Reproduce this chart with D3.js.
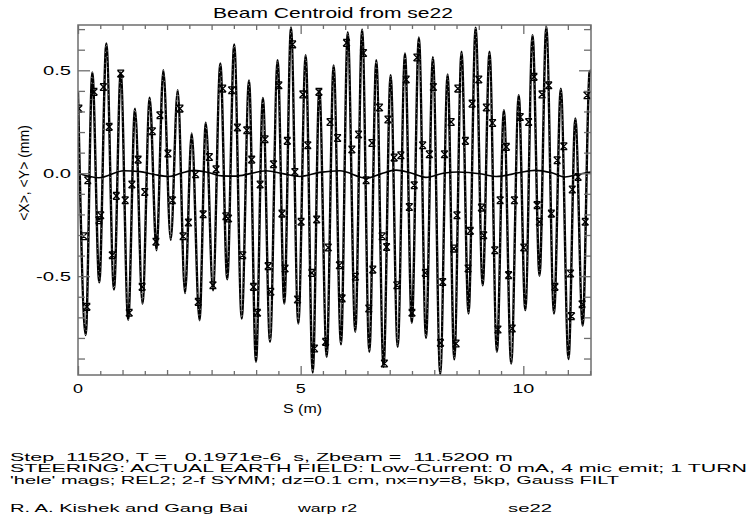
<!DOCTYPE html>
<html>
<head>
<meta charset="utf-8">
<script src="https://cdn.jsdelivr.net/npm/d3@7"></script>
<style>
  html, body { margin: 0; padding: 0; background: #fff; }
  svg { display: block; }
  text { font-family: "Liberation Sans", Arial, Helvetica, sans-serif; fill: #000; white-space: pre; }
</style>
</head>
<body>
<svg id="chart" width="747" height="529"></svg>
<script>
// Oscillating centroid: successive extrema (S in m, centroid in mm)
const waveS = [0.000, 0.173, 0.321, 0.478, 0.636, 0.808, 0.959, 1.127, 1.280, 1.448,
  1.610, 1.763, 1.916, 2.082, 2.239, 2.403, 2.553, 2.728, 2.870, 3.032,
  3.196, 3.351, 3.508, 3.676, 3.840, 3.997, 4.152, 4.312, 4.482, 4.633,
  4.783, 4.947, 5.113, 5.271, 5.419, 5.585, 5.740, 5.906, 6.057, 6.227,
  6.380, 6.542, 6.699, 6.861, 7.020, 7.179, 7.343, 7.496, 7.655, 7.815,
  7.970, 8.134, 8.300, 8.450, 8.612, 8.770, 8.929, 9.088, 9.241, 9.407,
  9.564, 9.728, 9.897, 10.045, 10.207, 10.364, 10.516, 10.689, 10.842, 11.015,
  11.168, 11.334, 11.487, 11.520];
const waveV = [0.395, -0.786, 0.490, -0.530, 0.630, -0.565, 0.490, -0.712, 0.314, -0.633,
  0.367, -0.374, 0.500, -0.323, 0.403, -0.582, 0.193, -0.714, 0.245, -0.568,
  0.533, -0.515, 0.625, -0.706, 0.451, -0.916, 0.366, -0.819, 0.549, -0.633,
  0.708, -0.730, 0.573, -0.968, 0.408, -0.892, 0.524, -0.831, 0.685, -0.770,
  0.698, -0.867, 0.549, -0.940, 0.476, -0.843, 0.582, -0.726, 0.660, -0.800,
  0.564, -0.975, 0.480, -0.904, 0.590, -0.681, 0.707, -0.544, 0.590, -0.867,
  0.306, -0.924, 0.379, -0.665, 0.670, -0.498, 0.712, -0.681, 0.411, -0.902,
  0.266, -0.740, 0.490, 0.500];

// Slowly wandering centroid near the axis
const flatS = [0.00, 0.47, 1.03, 1.39, 1.71, 2.04, 2.31, 2.61, 2.92, 3.23, 3.55, 3.86,
  4.22, 4.60, 4.98, 5.43, 5.88, 6.47, 6.80, 7.14, 7.46, 7.81, 8.20, 8.53,
  9.07, 9.39, 9.90, 10.26, 10.64, 10.94, 11.25, 11.52];
const flatV = [0.000, -0.022, 0.012, 0.008, -0.006, -0.016, 0.000, 0.014, 0.004, -0.013, -0.014, -0.002,
  0.012, -0.002, -0.016, 0.004, 0.012, -0.024, -0.003, 0.015, 0.002, -0.020, 0.000, 0.006,
  -0.004, -0.016, 0.002, 0.014, 0.002, -0.018, -0.004, 0.006];

// Sampled points marked with asterisks
const markS = [0.02, 0.13, 0.20, 0.22, 0.36, 0.47, 0.51, 0.57, 0.70, 0.77, 0.86, 0.96, 1.06, 1.15, 1.21,
  1.35, 1.44, 1.50, 1.67, 1.75, 1.84, 2.02, 2.12, 2.29, 2.36, 2.48, 2.64, 2.70, 2.81,
  2.95, 3.03, 3.10, 3.25, 3.32, 3.38, 3.45, 3.58, 3.70, 3.79, 3.90, 3.94, 4.03, 4.09,
  4.20, 4.27, 4.33, 4.39, 4.51, 4.58, 4.65, 4.70, 4.82, 4.87, 4.93, 5.01, 5.05, 5.16,
  5.25, 5.31, 5.36, 5.41, 5.56, 5.62, 5.66, 5.83, 5.87, 5.93, 6.03, 6.15, 6.23, 6.30,
  6.41, 6.47, 6.53, 6.60, 6.62, 6.77, 6.83, 6.88, 6.93, 6.96, 7.10, 7.16, 7.25, 7.37,
  7.44, 7.50, 7.55, 7.61, 7.74, 7.80, 7.89, 7.98, 8.14, 8.19, 8.23, 8.38, 8.44, 8.49,
  8.51, 8.53, 8.70, 8.76, 8.81, 8.85, 9.00, 9.06, 9.11, 9.17, 9.31, 9.36, 9.43, 9.48,
  9.62, 9.67, 9.75, 9.80, 9.93, 10.01, 10.12, 10.24, 10.31, 10.36, 10.42, 10.57, 10.63,
  10.71, 10.76, 10.91, 11.06, 11.08, 11.10, 11.23, 11.32, 11.39, 11.43];
const markV = [0.314, -0.306, -0.649, -0.034, 0.395, -0.228, -0.204, 0.419, 0.225, -0.398, -0.110, 0.484, -0.131, -0.678, -0.055,
  0.066, -0.552, -0.091, 0.204, -0.333, 0.282, 0.096, -0.131, 0.314, -0.306, -0.239, -0.005, -0.625, -0.199,
  0.079, -0.544, 0.019, 0.411, -0.209, -0.220, 0.403, 0.222, -0.398, 0.209, 0.066, -0.552, -0.678, -0.055,
  0.165, -0.451, -0.576, 0.044, 0.427, -0.196, -0.463, 0.157, 0.626, 0.006, -0.613, -0.236, 0.383, 0.136,
  -0.484, -0.851, -0.225, 0.395, -0.819, -0.361, 0.249, 0.171, -0.447, -0.608, 0.633, 0.115, -0.503, 0.188,
  0.584, -0.034, -0.657, 0.147, -0.468, 0.319, -0.306, -0.924, -0.358, 0.261, 0.076, -0.544, 0.087, 0.455,
  -0.164, -0.678, -0.058, 0.562, 0.136, -0.484, 0.092, 0.419, -0.824, -0.528, 0.092, 0.249, -0.366, -0.827,
  -0.204, 0.411, 0.157, -0.463, -0.280, 0.338, 0.455, -0.167, -0.301, 0.319, 0.244, -0.374, -0.759, -0.131,
  0.128, -0.495, -0.754, -0.131, 0.273, -0.361, 0.249, 0.468, -0.155, -0.236, 0.383, 0.427, -0.196,
  -0.552, 0.063, 0.131, -0.487, -0.694, -0.079, -0.018, -0.636, -0.236, 0.379];

// Axis ticks and labels
const xMajorTicks = [0, 5, 10];
const xTickLabels = ["0", "5", "10"];
const yMajorTicks = [-0.5, 0.0, 0.5];
const yTickLabels = ["-0.5", "0.0", "0.5"];

const titleText = "Beam Centroid from se22";
const xLabel = "S (m)";
const yLabel = "<X>, <Y> (mm)";
const footerLines = [
  "Step  11520, T =   0.1971e-6  s, Zbeam =  11.5200 m",
  "STEERING: ACTUAL EARTH FIELD: Low-Current: 0 mA, 4 mic emit; 1 TURN",
  "'hele' mags; REL2; 2-f SYMM; dz=0.1 cm, nx=ny=8, 5kp, Gauss FILT"
];
const creditText = ["R. A. Kishek and Gang Bai", "warp r2", "se22"];

const svg = d3.select("#chart");
const plot = { left: 78, right: 591, top: 25, bottom: 375 };

const x = d3.scaleLinear().domain([0, 11.52]).range([plot.left, plot.right]);
const y = d3.scaleLinear().domain([-0.98, 0.72]).range([plot.bottom, plot.top]);

// Stretch a text element to a given rendered width
function fit(sel, width) {
  sel.attr("textLength", width).attr("lengthAdjust", "spacingAndGlyphs");
}

const clipId = "plotClip";
svg.append("defs").append("clipPath").attr("id", clipId)
  .append("rect")
  .attr("x", plot.left).attr("y", plot.top)
  .attr("width", plot.right - plot.left).attr("height", plot.bottom - plot.top);

const data = waveS.map((s, i) => ({ s, v: waveV[i] }));
const flat = flatS.map((s, i) => ({ s, v: flatV[i] }));
const marks = markS.map((s, i) => ({ s, v: markV[i] }));

const line = d3.line().x(d => x(d.s)).y(d => y(d.v)).curve(d3.curveMonotoneX);

const g = svg.append("g").attr("clip-path", `url(#${clipId})`);

// Oscillating centroid: heavy trace with a broken light core
g.append("path").datum(data)
  .attr("d", line).attr("fill", "none")
  .attr("stroke", "#000").attr("stroke-width", 2.4).attr("stroke-linejoin", "round");
g.append("path").datum(data)
  .attr("d", line).attr("fill", "none")
  .attr("stroke", "#fff").attr("stroke-width", 0.6)
  .attr("stroke-dasharray", "1,4.5");

// Near-axis centroid
g.append("path").datum(flat)
  .attr("d", d3.line().x(d => x(d.s)).y(d => y(d.v)).curve(d3.curveMonotoneX))
  .attr("fill", "none").attr("stroke", "#000").attr("stroke-width", 1.6);

// Asterisk markers
const r = 3.4;
const star = `M${-r},${-r}L${r},${r}M${r},${-r}L${-r},${r}M${-r},${-r}L${r},${-r}M${-r},${r}L${r},${r}`;
g.selectAll("path.mark").data(marks).join("path")
  .attr("class", "mark")
  .attr("transform", d => `translate(${x(d.s)},${y(d.v)})`)
  .attr("d", star)
  .attr("fill", "none").attr("stroke", "#000").attr("stroke-width", 1.3);

// Frame
const axisColor = "#6e6e6e";
svg.append("rect")
  .attr("x", plot.left).attr("y", plot.top)
  .attr("width", plot.right - plot.left).attr("height", plot.bottom - plot.top)
  .attr("fill", "none").attr("stroke", axisColor).attr("stroke-width", 1.5);

// Inward ticks on all four sides
function styleAxis(sel) {
  sel.select(".domain").remove();
  sel.selectAll(".tick line").attr("stroke", axisColor).attr("stroke-width", 1.3);
}
const xHalf = d3.range(0, 11.52, 0.5).filter(v => v % 1 !== 0);
const xInt = d3.range(1, 12).filter(v => v % 5 !== 0);
const yMinor = d3.range(-0.9, 0.75, 0.1).map(v => +v.toFixed(1)).filter(v => Math.abs(v * 2 - Math.round(v * 2)) > 1e-6);

[[xHalf, 4], [xInt, 5], [xMajorTicks, 9]].forEach(([vals, len]) => {
  svg.append("g").attr("transform", `translate(0,${plot.bottom})`)
    .call(d3.axisBottom(x).tickValues(vals).tickSize(-len).tickFormat(""))
    .call(styleAxis);
  svg.append("g").attr("transform", `translate(0,${plot.top})`)
    .call(d3.axisTop(x).tickValues(vals).tickSize(-len).tickFormat(""))
    .call(styleAxis);
});
[[yMinor, 7], [yMajorTicks, 12]].forEach(([vals, len]) => {
  svg.append("g").attr("transform", `translate(${plot.left},0)`)
    .call(d3.axisLeft(y).tickValues(vals).tickSize(-len).tickFormat(""))
    .call(styleAxis);
  svg.append("g").attr("transform", `translate(${plot.right},0)`)
    .call(d3.axisRight(y).tickValues(vals).tickSize(-len).tickFormat(""))
    .call(styleAxis);
});

// Tick labels
const xLabelW = [10, 10, 22];
svg.append("g").selectAll("text").data(xMajorTicks).join("text")
  .attr("x", (d, i) => x(d) - xLabelW[i] / 2).attr("y", 393)
  .attr("font-size", 12.5)
  .text((d, i) => xTickLabels[i])
  .each(function (d, i) { d3.select(this).call(fit, xLabelW[i]); });
const yLabelW = [35, 28, 28];
svg.append("g").selectAll("text").data(yMajorTicks).join("text")
  .attr("x", (d, i) => 71 - yLabelW[i]).attr("y", d => y(d) + 4.8)
  .attr("font-size", 13)
  .text((d, i) => yTickLabels[i])
  .each(function (d, i) { d3.select(this).call(fit, yLabelW[i]); });

// Title and axis titles
svg.append("text").attr("x", 213).attr("y", 18).attr("font-size", 15)
  .text(titleText).call(fit, 240);
svg.append("text").attr("x", 283).attr("y", 413).attr("font-size", 13)
  .text(xLabel).call(fit, 39);
svg.append("text")
  .attr("transform", `translate(29,173) rotate(-90)`)
  .attr("text-anchor", "middle").attr("font-size", 14)
  .text(yLabel);

// Run information
const footerY = [460.8, 472.4, 484.0];
const footerW = [503, 737, 609];
footerLines.forEach((t, i) => {
  svg.append("text").attr("x", 10).attr("y", footerY[i]).attr("font-size", 10.6)
    .text(t).call(fit, footerW[i]);
});
const creditX = [10, 298, 508];
const creditW = [238, 59, 44];
creditText.forEach((t, i) => {
  svg.append("text").attr("x", creditX[i]).attr("y", 511.7).attr("font-size", 11.8)
    .text(t).call(fit, creditW[i]);
});
</script>
</body>
</html>
